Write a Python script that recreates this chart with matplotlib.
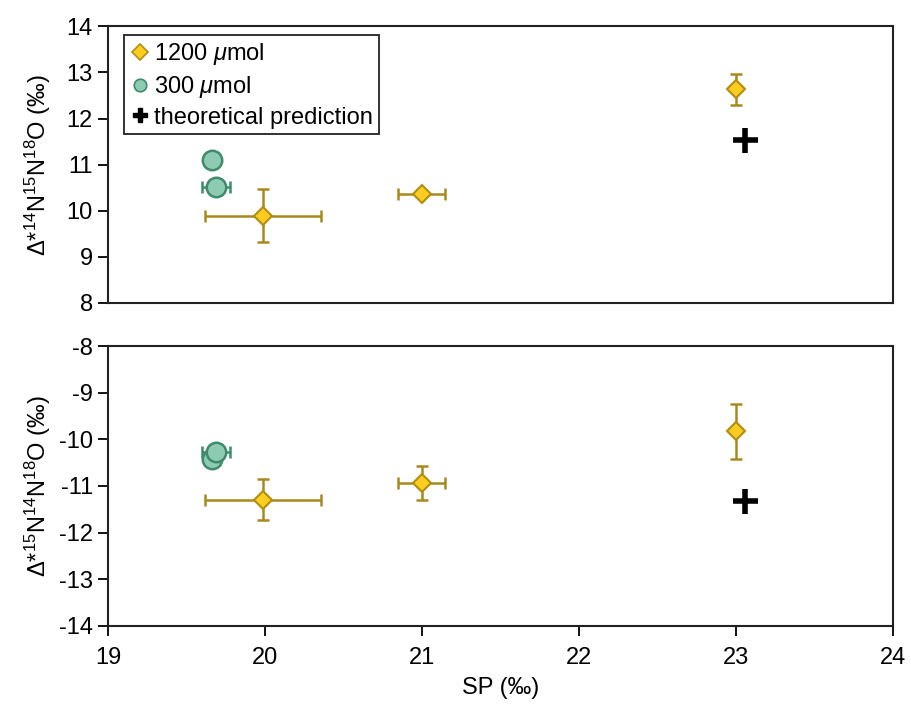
import matplotlib
matplotlib.use("Agg")
import matplotlib.pyplot as plt
from matplotlib.lines import Line2D

plt.rcParams['font.family'] = ['Liberation Sans', 'DejaVu Sans']
plt.rcParams['mathtext.fontset'] = 'custom'
plt.rcParams['mathtext.rm'] = 'Liberation Sans'
plt.rcParams['mathtext.it'] = 'Liberation Sans:italic'
plt.rcParams['mathtext.default'] = 'regular'
plt.rcParams['axes.unicode_minus'] = False

# 1200 umol experiments
sp_1200 = [19.99, 21.00, 23.00]
sp_1200_err = [0.37, 0.15, 0.0]
d14_1200 = [9.89, 10.37, 12.63]
d14_1200_err = [0.57, 0.05, 0.34]
d15_1200 = [-11.30, -10.94, -9.83]
d15_1200_err = [0.44, 0.37, 0.59]

# 300 umol experiments
sp_300 = [19.665, 19.69]
sp_300_err = [0.0, 0.09]
d14_300 = [11.11, 10.52]
d15_300 = [-10.42, -10.28]

# theoretical prediction
sp_theory = [23.06]
d14_theory = [11.53]
d15_theory = [-11.33]

gold_face = '#FFCC22'
gold_edge = '#B08E10'
gold_err = '#A8891E'
teal_face = '#8ECBB3'
teal_edge = '#3F8A6C'

FS = 17

fig = plt.figure(figsize=(9.11, 7.11), dpi=100)
ax1 = fig.add_axes([0.1186, 0.574, 0.8614, 0.389])
ax2 = fig.add_axes([0.1186, 0.120, 0.8614, 0.393])


def draw(ax, y1200, y1200err, y300, ytheory):
    ax.errorbar(sp_1200, y1200, xerr=sp_1200_err, yerr=y1200err, fmt='none',
                ecolor=gold_err, elinewidth=1.8, capsize=4.5, capthick=1.8, zorder=2)
    ax.plot(sp_1200, y1200, linestyle='none', marker='D', markersize=9.5,
            markerfacecolor=gold_face, markeredgecolor=gold_edge, markeredgewidth=1.5, zorder=3)
    ax.errorbar(sp_300, y300, xerr=sp_300_err, fmt='none',
                ecolor=teal_edge, elinewidth=1.8, capsize=4.5, capthick=1.8, zorder=2)
    for i in range(len(sp_300)):
        ax.plot([sp_300[i]], [y300[i]], linestyle='none', marker='o', markersize=14,
                markerfacecolor=teal_face, markeredgecolor=teal_edge, markeredgewidth=1.8,
                zorder=3 + i)
    ax.plot(sp_theory, ytheory, linestyle='none', marker='+', markersize=18,
            markeredgewidth=4, color='black', zorder=5)
    ax.set_xlim(19, 24)
    for s in ax.spines.values():
        s.set_linewidth(1.5)
        s.set_color('#222222')
    ax.tick_params(axis='y', direction='out', length=7, width=1.3, labelsize=FS, pad=4)
    ax.tick_params(axis='x', direction='out', length=7, width=1.3, labelsize=FS, pad=8)


draw(ax1, d14_1200, d14_1200_err, d14_300, d14_theory)
draw(ax2, d15_1200, d15_1200_err, d15_300, d15_theory)

ax1.set_ylim(8, 14)
ax1.set_yticks(range(8, 15))
ax1.set_xticks([])
ax1.set_ylabel('Δ*$^{14}$N$^{15}$N$^{18}$O (‰)', fontsize=FS, labelpad=10)

ax2.set_ylim(-14, -8)
ax2.set_yticks(range(-14, -7))
ax2.set_xticks(range(19, 25))
ax2.set_xlabel('SP (‰)', fontsize=FS, labelpad=6)
ax2.set_ylabel('Δ*$^{15}$N$^{14}$N$^{18}$O (‰)', fontsize=FS, labelpad=4)

handles = [
    Line2D([], [], linestyle='none', marker='D', markersize=8,
           markerfacecolor=gold_face, markeredgecolor=gold_edge, markeredgewidth=1.2),
    Line2D([], [], linestyle='none', marker='o', markersize=9,
           markerfacecolor=teal_face, markeredgecolor=teal_edge, markeredgewidth=1.2),
    Line2D([], [], linestyle='none', marker='P', markersize=10, color='black'),
]
labels = ['1200 $\\mathit{\\mu}$mol', '300 $\\mathit{\\mu}$mol', 'theoretical prediction']
leg = ax1.legend(handles, labels, loc='upper left', bbox_to_anchor=(0.02, 0.967),
                 borderaxespad=0, fontsize=17, frameon=True, fancybox=False,
                 edgecolor='#222222', framealpha=1, handletextpad=0.15,
                 handlelength=0.9, labelspacing=0.28, borderpad=0.25)
leg.get_frame().set_linewidth(1.3)

fig.savefig('out.png', dpi=100)
